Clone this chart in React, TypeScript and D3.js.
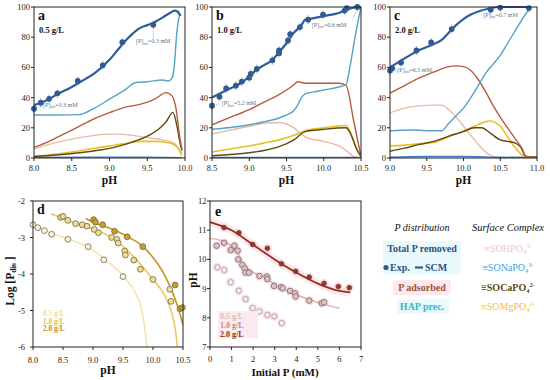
import * as d3 from "d3";

const FONT = "'Liberation Serif', 'DejaVu Serif', serif";

type P = [number, number];

// ---- panel a : 0.5 g/L ----
const aTotal: P[] = [[8.0,35],[8.2,39],[8.3,42],[8.5,47],[8.6,50],[8.8,56],[9.0,65],[9.1,71],[9.2,77],[9.3,82],[9.4,86],[9.5,88],[9.6,90],[9.7,93],[9.8,96],[9.86,97.6],[9.9,97],[9.94,94]];
const aHap: P[] = [[8.0,28.5],[8.3,28.5],[8.6,28.7],[8.8,33],[9.0,39],[9.2,45],[9.35,50],[9.5,50.5],[9.7,51.7],[9.78,51],[9.83,53],[9.86,62],[9.89,82],[9.92,93],[9.94,95]];
const aAds: P[] = [[8.0,7],[8.2,11],[8.4,16],[8.6,21],[8.8,26],[9.0,30],[9.2,33.5],[9.4,35.5],[9.6,39],[9.75,43.3],[9.83,41],[9.88,33],[9.93,14],[9.96,6]];
const aHpo: P[] = [[8.0,6],[8.2,9],[8.4,11.5],[8.6,13.5],[8.8,15],[9.0,15.8],[9.1,15.8],[9.3,15],[9.5,13.5],[9.7,12],[9.85,10],[9.92,6],[9.96,3]];
const aCa: P[] = [[8.0,1],[8.3,2],[8.6,3.5],[8.9,5.5],[9.1,7.5],[9.3,10.5],[9.5,14.5],[9.65,19],[9.75,24],[9.84,30.2],[9.89,22],[9.93,11],[9.96,5]];
const aMg: P[] = [[8.0,1],[8.5,4],[8.8,6.5],[9.0,8],[9.2,9.5],[9.4,11],[9.6,11],[9.8,10],[9.9,7],[9.96,1.5]];
const aNa: P[] = [[8.0,0.3],[9.0,0.6],[9.5,0.6],[9.96,0.2]];
const aExp: P[] = [[8.0,32.6],[8.09,36.6],[8.2,39.2],[8.31,42.8],[8.58,51],[8.91,61.4],[9.17,76.7],[9.58,88.2]];

// ---- panel b : 1.0 g/L ----
const bTotal: P[] = [[8.5,40],[8.7,45],[8.9,50],[9.0,54],[9.1,58.5],[9.2,61.5],[9.3,64.5],[9.4,70],[9.5,76],[9.6,83],[9.7,88],[9.75,91.5],[9.8,92],[10.0,94],[10.2,96],[10.3,98],[10.4,99.5],[10.5,100]];
const bHap: P[] = [[8.5,19],[8.8,20.5],[9.0,22],[9.2,24],[9.4,26.5],[9.5,28.5],[9.6,31.5],[9.65,35],[9.7,40],[9.75,42.5],[9.9,44],[10.0,45],[10.2,47],[10.3,48.5],[10.35,60],[10.42,80],[10.5,100]];
const bAds: P[] = [[8.5,22],[8.8,28],[9.0,32],[9.2,37],[9.4,42],[9.6,48.5],[9.65,50.5],[9.75,49.5],[10.0,49.5],[10.2,49.5],[10.3,48],[10.4,25],[10.5,1]];
const bHpo: P[] = [[8.5,16],[8.8,19],[9.0,21],[9.2,23],[9.4,23.5],[9.5,22.5],[9.6,20],[9.7,16],[9.75,14],[10.0,11],[10.2,8],[10.3,5],[10.4,1],[10.5,0]];
const bCa: P[] = [[8.5,1.5],[8.8,2.5],[9.0,3.5],[9.2,5],[9.4,7.5],[9.6,12],[9.75,17.5],[10.0,19],[10.3,20],[10.35,17],[10.45,5],[10.5,1]];
const bMg: P[] = [[8.5,4],[8.8,6.5],[9.0,8],[9.2,10],[9.4,12],[9.6,15],[9.75,18],[10.0,20],[10.3,21.5],[10.35,18],[10.45,5],[10.5,1]];
const bNa: P[] = [[8.5,0.3],[9.5,0.4],[10.5,0.3]];
const bExp: P[] = [[8.5,34.6],[8.6,40.6],[8.69,46.1],[8.82,47.9],[8.9,50.6],[9.0,53.2],[9.02,55.7],[9.1,59],[9.31,64.7],[9.4,69.4],[9.4,71.2],[9.52,77.8],[9.55,82],[9.68,86.7],[9.79,91.6],[9.99,94.9],[10.28,97.6],[10.31,99.3],[10.45,100]];

// ---- panel c : 2.0 g/L ----
const cTotal: P[] = [[9.0,60],[9.2,66],[9.4,71.5],[9.6,75.5],[9.7,78],[9.8,83],[9.9,88],[10.0,92],[10.1,95],[10.2,97],[10.35,99],[10.5,100],[10.9,100]];
const cHap: P[] = [[9.0,18],[9.3,18.5],[9.6,18],[9.7,18],[9.8,23],[9.9,28],[10.0,33],[10.1,40],[10.2,48],[10.3,56],[10.4,62],[10.5,68],[10.6,76],[10.7,84],[10.8,92],[10.9,99]];
const cAds: P[] = [[9.0,43],[9.2,48],[9.4,53],[9.6,57],[9.8,60.5],[9.9,61],[10.0,60.5],[10.1,58],[10.2,52],[10.3,44],[10.4,35],[10.5,27],[10.6,20],[10.7,13],[10.8,6],[10.85,1],[11.0,0.5]];
const cHpo: P[] = [[9.0,30],[9.2,33],[9.4,34.5],[9.6,35],[9.7,35],[9.8,32],[9.9,27],[10.0,21],[10.1,15],[10.2,9],[10.3,4],[10.4,1],[10.5,0],[11.0,0]];
const cCa: P[] = [[9.0,4.5],[9.2,6.5],[9.4,9],[9.6,11],[9.8,14.5],[10.0,17.5],[10.15,20],[10.25,20],[10.35,17],[10.5,12],[10.6,11],[10.7,10],[10.78,7],[10.85,1],[11.0,0.5]];
const cMg: P[] = [[9.0,8],[9.2,8.5],[9.4,9.5],[9.6,10.5],[9.8,14],[10.0,18],[10.2,22],[10.35,24.5],[10.5,21],[10.6,14],[10.7,7],[10.8,2],[10.9,0.5],[11.0,0.5]];
const cNa: P[] = [[9.0,0.5],[9.5,1],[10.0,1],[10.5,0.5],[11.0,0.3]];
const cExp: P[] = [[9.0,57.9],[9.03,59.4],[9.15,63.2],[9.36,71.2],[9.56,76.5],[9.84,85.4],[10.37,98.2],[10.5,99.6],[10.89,99.3]];

// ---- panel d : log [P dis] vs pH ----
const d05Pts: P[] = [[8.0,-2.65],[8.08,-2.73],[8.19,-2.81],[8.31,-2.91],[8.58,-3.05],[8.92,-3.25],[9.18,-3.61],[9.5,-4.07]];
const d10Pts: P[] = [[8.46,-2.45],[8.5,-2.42],[8.58,-2.53],[8.71,-2.62],[8.82,-2.65],[8.9,-2.69],[9.02,-2.78],[9.09,-2.87],[9.31,-3.0],[9.4,-3.05],[9.42,-3.15],[9.53,-3.37],[9.54,-3.48],[9.68,-3.62],[9.79,-3.87],[10.0,-4.15],[10.28,-4.42],[10.3,-4.75]];
const d20Pts: P[] = [[9.01,-2.51],[9.04,-2.58],[9.16,-2.65],[9.36,-2.83],[9.57,-2.98],[9.83,-3.25],[10.37,-4.3],[10.45,-4.95],[10.49,-4.92]];
const d05Fit: P[] = [[8.0,-2.65],[8.3,-2.88],[8.6,-3.05],[8.9,-3.25],[9.2,-3.6],[9.5,-4.05],[9.7,-4.5],[9.8,-4.9],[9.86,-5.45],[9.9,-6.05]];
const d10Fit: P[] = [[8.3,-2.35],[8.6,-2.55],[8.9,-2.7],[9.2,-2.9],[9.4,-3.1],[9.6,-3.4],[9.8,-3.75],[10.0,-4.15],[10.2,-4.6],[10.3,-5.0],[10.37,-5.5],[10.41,-6.05]];
const d20Fit: P[] = [[8.88,-2.48],[9.0,-2.58],[9.2,-2.7],[9.4,-2.83],[9.6,-3.0],[9.8,-3.2],[10.0,-3.55],[10.2,-4.05],[10.35,-4.6],[10.45,-5.1],[10.5,-5.4]];

// ---- panel e : pH vs initial P ----
const e05Pts: P[] = [[0.34,9.73],[0.66,9.64],[0.96,9.22],[1.34,8.93],[1.65,8.64],[1.98,8.33],[2.29,8.22],[2.66,8.1],[2.98,8.05],[3.32,7.82]];
const e10Pts: P[] = [[0.31,10.47],[0.65,10.57],[0.96,10.32],[1.13,10.47],[1.28,10.3],[1.31,10.0],[1.5,9.81],[1.61,9.69],[1.65,9.55],[1.81,9.55],[2.29,9.43],[2.63,9.41],[2.66,9.33],[2.97,9.09],[3.29,9.05],[3.37,9.01],[3.71,8.92],[3.94,8.84],[3.97,8.73],[4.6,8.59],[5.18,8.5],[5.29,8.53]];
const e20Pts: P[] = [[0.65,11.09],[1.34,10.91],[1.98,10.51],[2.66,10.38],[3.31,9.85],[3.97,9.59],[4.6,9.39],[5.29,9.18],[5.95,9.07],[6.46,9.03]];
const e10Fit: P[] = [[0,10.72],[0.5,10.65],[1,10.45],[1.3,10.2],[1.5,9.92],[1.8,9.65],[2.5,9.4],[3,9.15],[4,8.8],[5,8.52],[6,8.33]];
const e20Fit: P[] = [[0,11.28],[1,11.0],[2,10.5],[3,10.0],[4,9.55],[5,9.17],[6,8.92],[6.5,8.87]];

const removalTicks = [0, 20, 40, 60, 80, 100];
const doses = ["0.5 g/L", "1.0 g/L", "2.0 g/L"];

const C = {
  total: "#2f5c9a",
  hap: "#55a2c6",
  ads: "#b85a3c",
  hpo: "#e8b9a8",
  na: "#3b7cc4",
  ca: "#5e4b10",
  mg: "#e6c024",
};

function Ini({ x, y, v }: { x: number; y: number; v: string }) {
  return (
    <text x={x} y={y} fontSize={6} fill="#5f7086" fontFamily={FONT}>
      [P]<tspan fontSize={4.5} dy={1.5}>ini</tspan>
      <tspan dy={-1.5}>={v} mM</tspan>
    </text>
  );
}

type Note = { pt: P; lead: P; at: P; v: string };

function RemovalPanel({ x0, x1, domain, xTicks, letter, dose, series, exp, notes }: any) {
  const top = 7, bottom = 158;
  const x = d3.scaleLinear(domain, [x0, x1]);
  const y = d3.scaleLinear([0, 100], [bottom, top]);
  const line = d3.line<P>((d) => x(d[0]), (d) => y(d[1])).curve(d3.curveMonotoneX);
  const id = "clip" + letter;
  return (
    <g fontFamily={FONT}>
      <clipPath id={id}>
        <rect x={x0} y={top - 2} width={x1 - x0} height={bottom - top + 2} />
      </clipPath>
      <g clipPath={`url(#${id})`}>
        {series.map((s: any, i: number) => (
          <path key={i} d={line(s.data) || ""} fill="none" stroke={s.color} strokeWidth={s.w} />
        ))}
      </g>
      {exp.map((d: P, i: number) => (
        <g key={i}>
          <line x1={x(d[0])} x2={x(d[0])} y1={y(d[1] - 3)} y2={y(Math.min(d[1] + 3, 100))} stroke="#8c96a4" strokeWidth={0.7} />
          <circle cx={x(d[0])} cy={y(d[1])} r={2.9} fill="#2f5a93" />
        </g>
      ))}
      {notes.map((n: Note, i: number) => (
        <g key={i}>
          <line x1={x(n.pt[0])} y1={y(n.pt[1])} x2={x(n.lead[0])} y2={y(n.lead[1])} stroke="#5f7086" strokeWidth={0.6} strokeDasharray="1 1" />
          <Ini x={x(n.at[0])} y={y(n.at[1])} v={n.v} />
        </g>
      ))}
      <rect x={x0} y={top} width={x1 - x0} height={bottom - top} fill="none" stroke="#222" strokeWidth={1} />
      {removalTicks.map((t) => (
        <g key={t}>
          <line x1={x0 - 3} x2={x0} y1={y(t)} y2={y(t)} stroke="#222" />
          <text x={x0 - 4} y={y(t) + 3} fontSize={8.5} textAnchor="end" fill="#222">{t}</text>
        </g>
      ))}
      {xTicks.map((t: number) => (
        <g key={t}>
          <line x1={x(t)} x2={x(t)} y1={bottom} y2={bottom + 3} stroke="#222" />
          <text x={x(t)} y={bottom + 13} fontSize={8.5} textAnchor="middle" fill="#222">{t.toFixed(1)}</text>
        </g>
      ))}
      <text x={(x0 + x1) / 2} y={184} fontSize={11.5} fontWeight="bold" textAnchor="middle" fill="#111">pH</text>
      <text x={x0 + 4} y={top + 13} fontSize={14} fontWeight="bold" fill="#111">{letter}</text>
      <text x={x0 + 5} y={top + 26} fontSize={8.5} fontWeight="bold" fill="#111">{dose}</text>
    </g>
  );
}

function mkSeries(hpo: P[], na: P[], mg: P[], ca: P[], ads: P[], hap: P[], total: P[]) {
  return [
    { data: hpo, color: C.hpo, w: 1.4 },
    { data: na, color: C.na, w: 1.4 },
    { data: mg, color: C.mg, w: 1.6 },
    { data: ca, color: C.ca, w: 1.4 },
    { data: ads, color: C.ads, w: 1.4 },
    { data: hap, color: C.hap, w: 1.4 },
    { data: total, color: C.total, w: 2.2 },
  ];
}

function PanelD() {
  const x0 = 33, x1 = 183, top = 201, bottom = 347;
  const x = d3.scaleLinear([8, 10.5], [x0, x1]);
  const y = d3.scaleLinear([-6, -2], [bottom, top]);
  const line = d3.line<P>((d) => x(d[0]), (d) => y(d[1])).curve(d3.curveMonotoneX);
  const sets = [
    { pts: d05Pts, fit: d05Fit, line: "#f3e4aa", fill: "#fbf6e0", text: "#eedc9c" },
    { pts: d10Pts, fit: d10Fit, line: "#e7c866", fill: "#f0dc92", text: "#e0bf55" },
    { pts: d20Pts, fit: d20Fit, line: "#c79512", fill: "#c9a02c", text: "#bf9220" },
  ];
  return (
    <g fontFamily={FONT}>
      <clipPath id="clipd">
        <rect x={x0} y={top} width={x1 - x0} height={bottom - top} />
      </clipPath>
      <g clipPath="url(#clipd)">
        {sets.map((s, i) => (
          <path key={i} d={line(s.fit) || ""} fill="none" stroke={s.line} strokeWidth={1.6} />
        ))}
      </g>
      {sets.map((s, i) =>
        s.pts.map((d, j) => (
          <circle key={i + "-" + j} cx={x(d[0])} cy={y(d[1])} r={2.9} fill={s.fill} stroke="#6c6444" strokeWidth={0.8} />
        ))
      )}
      <rect x={x0} y={top} width={x1 - x0} height={bottom - top} fill="none" stroke="#222" />
      {[-2, -3, -4, -5, -6].map((t) => (
        <g key={t}>
          <line x1={x0 - 3} x2={x0} y1={y(t)} y2={y(t)} stroke="#222" />
          <text x={x0 - 8} y={y(t) + 3} fontSize={8.5} textAnchor="end" fill="#222">{t}</text>
        </g>
      ))}
      {[8, 8.5, 9, 9.5, 10, 10.5].map((t) => (
        <g key={t}>
          <line x1={x(t)} x2={x(t)} y1={bottom} y2={bottom + 3} stroke="#222" />
          <text x={x(t)} y={bottom + 16} fontSize={8.5} textAnchor="middle" fill="#222">{t.toFixed(1)}</text>
        </g>
      ))}
      <text x={108} y={374} fontSize={11.5} fontWeight="bold" textAnchor="middle" fill="#111">pH</text>
      <text transform="translate(14,281) rotate(-90)" fontSize={11.5} fontWeight="bold" textAnchor="middle" fill="#111">
        Log [P<tspan fontSize={8} dy={2}>dis</tspan><tspan dy={-2}> ]</tspan>
      </text>
      <text x={x0 + 4} y={top + 13} fontSize={14} fontWeight="bold" fill="#111">d</text>
      {sets.map((s, i) => (
        <text key={i} x={43} y={316 + i * 7.6} fontSize={7.4} fontWeight="bold" fill={s.text}>{doses[i]}</text>
      ))}
    </g>
  );
}

function PanelE() {
  const x0 = 210, x1 = 361, top = 201, bottom = 347;
  const x = d3.scaleLinear([0, 7], [x0, x1]);
  const y = d3.scaleLinear([7, 12], [bottom, top]);
  const line = d3.line<P>((d) => x(d[0]), (d) => y(d[1])).curve(d3.curveMonotoneX);
  const all = [...e05Pts, ...e10Pts, ...e20Pts];
  return (
    <g fontFamily={FONT}>
      <path d={line(e20Fit) || ""} fill="none" stroke="#fde8f0" strokeWidth={8} />
      {all.map((d, i) => (
        <circle key={"h" + i} cx={x(d[0])} cy={y(d[1])} r={4.6} fill="#fbe0eb" />
      ))}
      <path d={line(e10Fit) || ""} fill="none" stroke="#ddb2a2" strokeWidth={1.5} />
      <path d={line(e20Fit) || ""} fill="none" stroke="#9b2f1f" strokeWidth={1.8} />
      {e05Pts.map((d, i) => (
        <circle key={"a" + i} cx={x(d[0])} cy={y(d[1])} r={2.6} fill="#fbf4f4" stroke="#a69a9a" strokeWidth={0.9} />
      ))}
      {e10Pts.map((d, i) => (
        <circle key={"b" + i} cx={x(d[0])} cy={y(d[1])} r={2.8} fill="#dcc4c2" stroke="#857070" strokeWidth={0.9} />
      ))}
      {e20Pts.map((d, i) => (
        <circle key={"c" + i} cx={x(d[0])} cy={y(d[1])} r={2.4} fill="#8e3a28" stroke="#6a3020" strokeWidth={0.6} />
      ))}
      <rect x={x0} y={top} width={x1 - x0} height={bottom - top} fill="none" stroke="#222" />
      {[7, 8, 9, 10, 11, 12].map((t) => (
        <g key={t}>
          <line x1={x0 - 3} x2={x0} y1={y(t)} y2={y(t)} stroke="#222" />
          <text x={x0 - 3.5} y={y(t) + 3} fontSize={8.5} textAnchor="end" fill="#222">{t}</text>
        </g>
      ))}
      {[0, 1, 2, 3, 4, 5, 6, 7].map((t) => (
        <g key={t}>
          <line x1={x(t)} x2={x(t)} y1={bottom} y2={bottom + 3} stroke="#222" />
          <text x={x(t)} y={bottom + 15} fontSize={8.5} textAnchor="middle" fill="#222">{t}</text>
        </g>
      ))}
      <text x={285} y={376} fontSize={11} fontWeight="bold" textAnchor="middle" fill="#111">Initial P (mM)</text>
      <text transform="translate(197,280) rotate(-90)" fontSize={11.5} fontWeight="bold" textAnchor="middle" fill="#111">pH</text>
      <text x={x0 + 5} y={top + 15} fontSize={14} fontWeight="bold" fill="#111">e</text>
      <rect x={218} y={311} width={40} height={27} fill="#fdeaf1" />
      {["#d6c2c2", "#b39088", "#7c3420"].map((c, i) => (
        <text key={i} x={220} y={319 + i * 8.8} fontSize={8} fontWeight="bold" fill={c}>{doses[i]}</text>
      ))}
    </g>
  );
}

function Chem({ x, y, core, sup, color, bold }: any) {
  return (
    <text x={x} y={y} fontSize={10} textAnchor="middle" fill={color} fontWeight={bold ? "bold" : "normal"}>
      ≡SO{core}PO<tspan fontSize={6.5} dy={2}>4</tspan>
      <tspan fontSize={6.5} dy={-6}>{sup}</tspan>
    </text>
  );
}

function Legend() {
  return (
    <g fontFamily={FONT}>
      <text x={422} y={231} fontSize={10} fontStyle="italic" textAnchor="middle" fill="#111">P distribution</text>
      <text x={508} y={231} fontSize={10.5} fontStyle="italic" textAnchor="middle" fill="#111">Surface Complex</text>
      <rect x={383} y={241} width={78} height={34} fill="#eaf9fb" />
      <rect x={393} y={280} width={58} height={15} fill="#fdeaf1" />
      <rect x={397} y={299} width={52} height={15} fill="#eaf9fb" />
      <text x={422} y={252} fontSize={10} fontWeight="bold" textAnchor="middle" fill="#2d5282">Total P removed</text>
      <circle cx={386} cy={267.5} r={2.6} fill="#2f5a93" />
      <text x={390} y={271} fontSize={10} fontWeight="bold" fill="#2d5282">Exp.</text>
      <line x1={415} x2={423} y1={267.5} y2={267.5} stroke={C.total} strokeWidth={2.2} />
      <text x={425} y={271} fontSize={10} fontWeight="bold" fill="#2d5282">SCM</text>
      <text x={422} y={291} fontSize={10} fontWeight="bold" textAnchor="middle" fill="#a2502f">P adsorbed</text>
      <text x={422} y={310} fontSize={10} fontWeight="bold" textAnchor="middle" fill="#37b6c6">HAP prec.</text>
      <Chem x={508} y={252} core="H" sup="3-" color="#f0c6c6" />
      <Chem x={508} y={271} core="Na" sup="3-" color="#3d9fe0" />
      <Chem x={508} y={291} core="Ca" sup="2-" color="#5a4a12" bold />
      <Chem x={508} y={310} core="Mg" sup="2-" color="#f0c24a" />
    </g>
  );
}

export default function App() {
  return (
    <svg width={550} height={380} style={{ position: "absolute", left: 0, top: 0, background: "#fff" }}>
      <rect width={550} height={380} fill="#fff" />
      <RemovalPanel
        x0={34} x1={185} domain={[8, 10]} xTicks={[8, 8.5, 9, 9.5, 10]} letter="a" dose="0.5 g/L"
        series={mkSeries(aHpo, aNa, aMg, aCa, aAds, aHap, aTotal)} exp={aExp}
        notes={[
          { pt: [9.58, 84], lead: [9.58, 79.5], at: [9.35, 76], v: "0.3" },
          { pt: [8.03, 33], lead: [8.1, 34.5], at: [8.12, 34], v: "3.3" },
        ]}
      />
      <RemovalPanel
        x0={212} x1={361} domain={[8.5, 10.5]} xTicks={[8.5, 9, 9.5, 10, 10.5]} letter="b" dose="1.0 g/L"
        series={mkSeries(bHpo, bNa, bMg, bCa, bAds, bHap, bTotal)} exp={bExp}
        notes={[
          { pt: [10.43, 97], lead: [10.39, 92], at: [9.84, 87], v: "0.6" },
          { pt: [8.53, 35], lead: [8.6, 36], at: [8.63, 35], v: "5.2" },
        ]}
      />
      <RemovalPanel
        x0={390} x1={537} domain={[9, 11]} xTicks={[9, 9.5, 10, 10.5, 11]} letter="c" dose="2.0 g/L"
        series={mkSeries(cHpo, cNa, cMg, cCa, cAds, cHap, cTotal)} exp={cExp}
        notes={[
          { pt: [10.87, 97], lead: [10.82, 95], at: [10.27, 93.5], v: "0.7" },
          { pt: [9.05, 58.5], lead: [9.09, 58], at: [9.1, 57], v: "6.5" },
        ]}
      />
      <PanelD />
      <PanelE />
      <Legend />
    </svg>
  );
}
